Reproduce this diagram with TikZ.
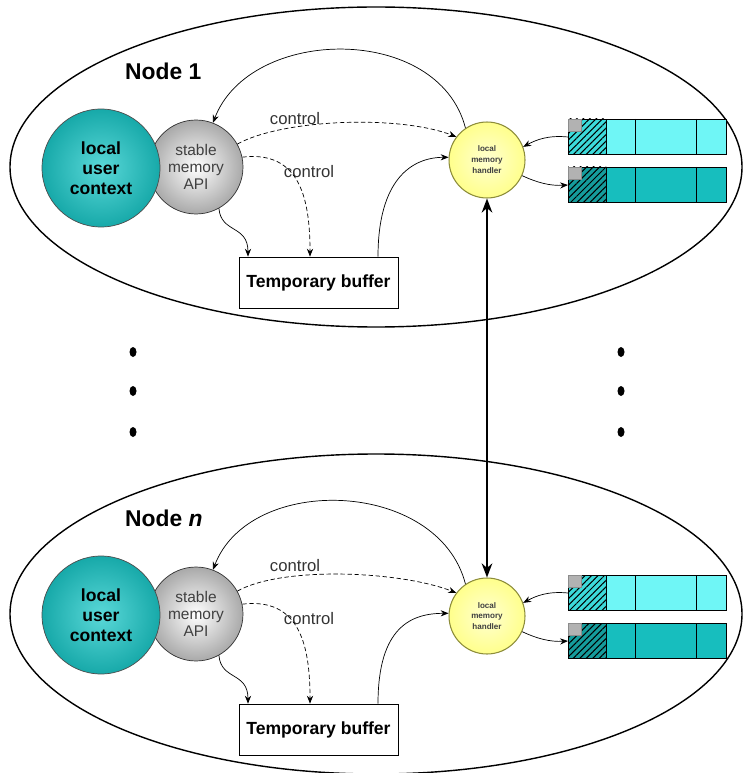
\documentclass[tikz,border=0pt]{standalone}
\usepackage{fontspec}
\setmainfont{Liberation Sans}
\usetikzlibrary{arrows.meta,patterns.meta,calc}

\definecolor{ctxteal}{HTML}{17A9A9}
\definecolor{ctxlight}{HTML}{5AD8D8}
\definecolor{apigray}{HTML}{A9A9A9}
\definecolor{lmhyellow}{HTML}{FFFF8C}
\definecolor{lmhedge}{HTML}{8C8C3A}
\definecolor{rowlight}{HTML}{6FF6F6}
\definecolor{rowdark}{HTML}{17BEBE}
\definecolor{hatchlight}{HTML}{3CDADA}
\definecolor{hatchdark}{HTML}{159C9C}

\tikzset{
	nodelabel/.style={font=\fontsize{13}{15}\selectfont\bfseries},
	ctxball/.style={circle,draw=black!70,thin,minimum size=2.36cm,inner sep=0pt,
		inner color=ctxlight,outer color=ctxteal,align=center,
		font=\fontsize{10}{11.3}\selectfont\bfseries},
	apiball/.style={circle,draw=black!80,thin,minimum size=1.88cm,inner sep=0pt,
		inner color=white,outer color=apigray,align=center,text=black!75,
		font=\fontsize{8.8}{9.6}\selectfont},
	lmhball/.style={circle,draw=lmhedge,semithick,minimum size=1.52cm,inner sep=0pt,
		inner color=lmhyellow!40,outer color=lmhyellow,align=center,text=black!75,
		font=\fontsize{4.6}{6.2}\selectfont\bfseries},
	bufbox/.style={draw,thin,fill=white,minimum width=3.18cm,minimum height=1.02cm,
		font=\fontsize{10}{12}\selectfont\bfseries},
	ctrllabel/.style={font=\fontsize{9.5}{11}\selectfont,text=black!80,inner sep=1pt},
	ctrl/.style={dash pattern=on 2.5pt off 1.5pt},
	bigarrow/.style={line width=1.4pt,{Stealth[length=8pt,width=6pt]}-{Stealth[length=8pt,width=6pt]}}
}

\begin{document}
\begin{tikzpicture}[x=0.02cm,y=-0.02cm,>={Stealth[length=4.5pt,width=3.5pt]},thin]
	\useasboundingbox (0,0) rectangle (746,773);

	\foreach \n/\lab/\dy/\dr in {1/1/0/0, n/\textit{n}/447/456}{
		\draw[line width=0.8pt] (376,167+\dy) ellipse [x radius=366, y radius=160];
		\node[nodelabel,anchor=west] (title\n) at (119,71+\dy) {Node \lab};

		\node[apiball] (api\n) at (196,167+\dy) {stable\\memory\\API};
		\node[ctxball] (ctx\n) at (101,168+\dy) {local\\user\\context};
		\node[bufbox] (buf\n) at (318.5,282.5+\dy) {Temporary buffer};
		\node[lmhball] (lmh\n) at (487,160+\dr) {local\\memory\\handler};

		\foreach \r/\top/\fc/\hc in {a/119/rowlight/hatchlight, b/167/rowdark/hatchdark}{
			\fill[\fc] (568,\top+\dr) rectangle (726,\top+35+\dr);
			\fill[\hc] (568,\top+\dr) rectangle (606,\top+35+\dr);
			\fill[pattern={Lines[angle=45,distance=2.6pt,line width=0.6pt]}]
				(568,\top+\dr) rectangle (606,\top+35+\dr);
			\draw (568,\top+\dr) rectangle (726,\top+35+\dr);
			\foreach \c in {606,635,696}
				\draw (\c,\top+\dr) -- (\c,\top+35+\dr);
			\draw[fill=black!30,draw=black!45] (568,\top+\dr) rectangle (581,\top+12+\dr);
			\coordinate (row\r\n) at (568,\top+18+\dr);
		}

		\node[ctrllabel] (ctrla\n) at (295,119+\dy) {control};
		\node[ctrllabel] (ctrlb\n) at (309,172+\dy) {control};

		\draw[->] (lmh\n.124) .. controls +(-27,-105) and +(37,-97) .. (api\n.69);
		\draw[ctrl,->] (api\n.29) .. controls +(45,-25) and +(-57,-22) .. (lmh\n.143);
		\draw[ctrl,->] (api\n.12) .. controls +(58,-7) and +(0,-57) .. ($(buf\n.north)+(-8.5,0)$);
		\draw[->] (api\n.-61) .. controls +(2,25) and +(0,-32) .. ($(buf\n.north)+(-70.5,0)$);
		\draw[->] ($(buf\n.north)+(59.5,0)$) .. controls +(0,-77) and +(-37,0) .. (lmh\n.176);
		\draw[->] (rowa\n) .. controls +(-20,-2) and +(13,-7) .. (lmh\n.20);
		\draw[->] (lmh\n.-24) .. controls +(15,7) and +(-18,1) .. (rowb\n);
	}

	\draw[bigarrow] (lmh1) -- (lmhn);

	\foreach \y in {352,391,432}
		\foreach \x in {133,621}
			\fill (\x,\y) ellipse [x radius=3.5, y radius=5];
\end{tikzpicture}
\end{document}
